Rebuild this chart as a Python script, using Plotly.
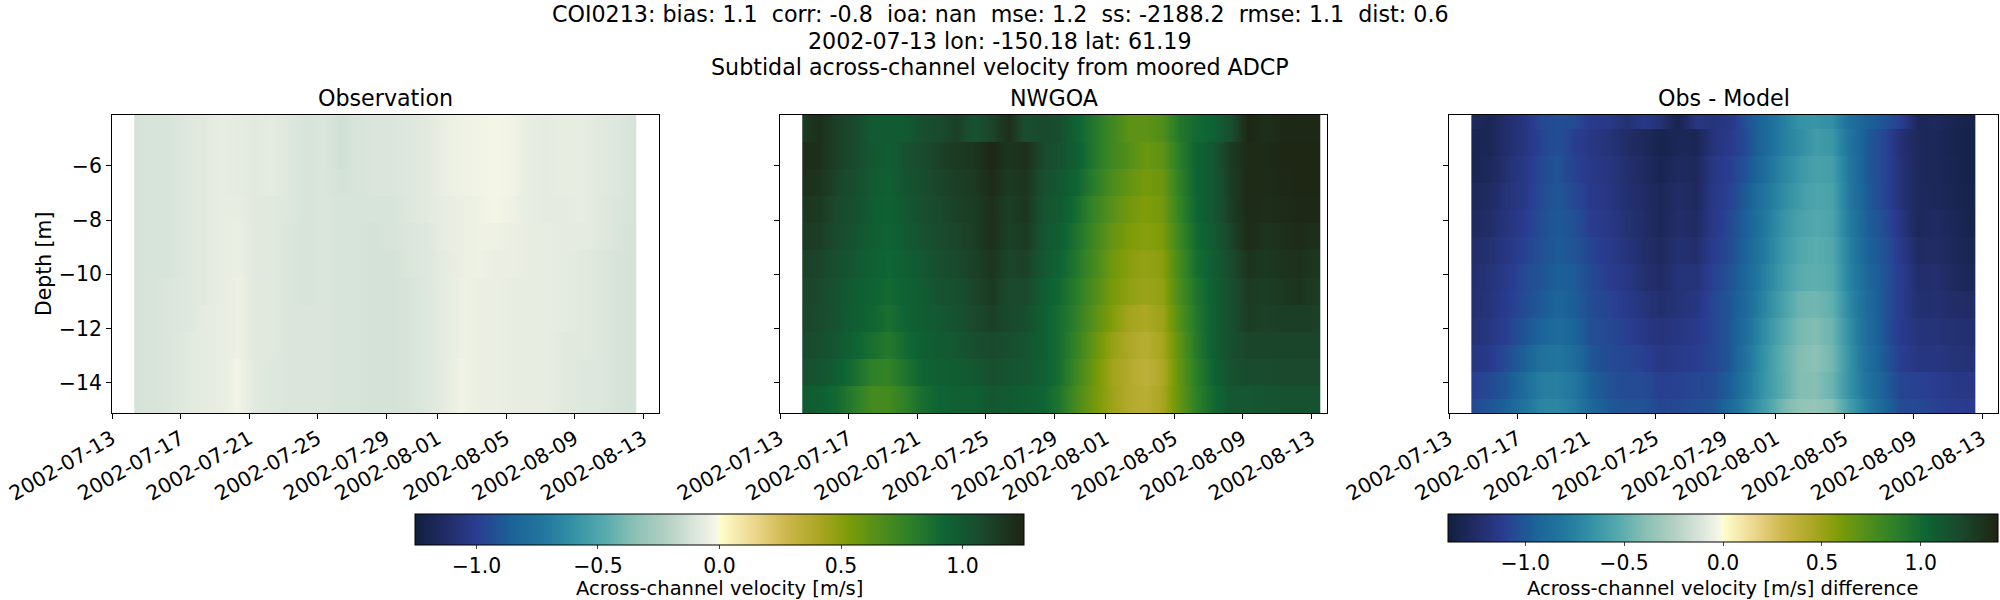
from datetime import datetime, timedelta

import numpy as np
import plotly.graph_objects as go

# days after 2002-07-13 for the start of each data column
day_obs = [1.3, 2.3, 3.3, 4.3, 5.3, 6.3, 7.3, 8.3, 9.3, 10.3, 11.3, 12.3, 13.3, 14.3, 15.3, 16.3, 17.3, 18.3,
           19.3, 20.3, 21.3, 22.3, 23.3, 24.3, 25.3, 26.3, 27.3, 28.3, 29.3, 30.3, 30.6]
day_model = day_obs + [31.5]

# top edge of every model level, last one only shows in the difference panel
depth_levels = [-4.12, -5.12, -6.12, -7.12, -8.12, -9.12, -10.12, -11.12, -12.12, -13.12, -14.12, -15.12]

obs_rows = [
    [-.12, -.11, -.11, -.09, -.08, -.06, -.07, -.08, -.07, -.09, -.11, -.10, -.13, -.11, -.10, -.10, -.09, -.08, -.05, -.04, -.03, -.02, -.03, -.06, -.07, -.06, -.06, -.08, -.09, -.11, -.12],
    [-.12, -.11, -.11, -.09, -.08, -.06, -.07, -.08, -.07, -.09, -.11, -.10, -.13, -.11, -.10, -.10, -.09, -.08, -.05, -.04, -.03, -.02, -.03, -.06, -.07, -.06, -.06, -.08, -.09, -.11, -.12],
    [-.12, -.11, -.11, -.09, -.08, -.06, -.07, -.08, -.07, -.09, -.11, -.10, -.12, -.11, -.10, -.10, -.09, -.08, -.05, -.04, -.03, -.02, -.03, -.06, -.07, -.06, -.06, -.08, -.09, -.11, -.12],
    [-.12, -.11, -.11, -.09, -.08, -.06, -.06, -.08, -.08, -.09, -.11, -.10, -.11, -.11, -.11, -.11, -.09, -.08, -.06, -.05, -.04, -.02, -.04, -.06, -.07, -.07, -.06, -.08, -.10, -.11, -.12],
    [-.12, -.11, -.11, -.09, -.08, -.06, -.05, -.08, -.08, -.10, -.11, -.10, -.11, -.11, -.12, -.11, -.10, -.09, -.06, -.05, -.04, -.04, -.05, -.06, -.06, -.07, -.07, -.08, -.10, -.12, -.12],
    [-.12, -.11, -.11, -.09, -.08, -.06, -.05, -.08, -.08, -.10, -.11, -.10, -.11, -.11, -.12, -.12, -.10, -.09, -.07, -.05, -.04, -.05, -.05, -.06, -.06, -.07, -.08, -.09, -.11, -.12, -.12],
    [-.12, -.11, -.10, -.09, -.08, -.06, -.04, -.08, -.08, -.10, -.11, -.10, -.11, -.11, -.12, -.12, -.11, -.09, -.07, -.04, -.05, -.05, -.06, -.06, -.06, -.07, -.08, -.09, -.11, -.12, -.12],
    [-.12, -.11, -.10, -.09, -.07, -.06, -.04, -.08, -.08, -.10, -.10, -.10, -.11, -.11, -.12, -.12, -.11, -.09, -.07, -.04, -.05, -.05, -.06, -.06, -.06, -.07, -.08, -.09, -.11, -.12, -.12],
    [-.12, -.11, -.10, -.08, -.07, -.06, -.04, -.08, -.08, -.10, -.10, -.10, -.11, -.11, -.12, -.12, -.11, -.09, -.07, -.04, -.05, -.05, -.06, -.06, -.06, -.08, -.08, -.09, -.11, -.12, -.12],
    [-.12, -.11, -.10, -.08, -.07, -.06, -.03, -.08, -.09, -.10, -.10, -.10, -.11, -.11, -.12, -.12, -.11, -.09, -.07, -.03, -.05, -.05, -.06, -.06, -.06, -.08, -.09, -.09, -.11, -.12, -.12],
    [-.12, -.11, -.10, -.08, -.07, -.06, -.03, -.08, -.09, -.10, -.10, -.10, -.11, -.11, -.12, -.12, -.11, -.09, -.07, -.03, -.05, -.05, -.06, -.06, -.06, -.08, -.09, -.09, -.11, -.12, -.12],
    [-.12, -.11, -.10, -.08, -.07, -.06, -.03, -.08, -.09, -.10, -.10, -.10, -.11, -.11, -.12, -.12, -.11, -.09, -.07, -.03, -.05, -.05, -.06, -.06, -.06, -.08, -.09, -.09, -.11, -.12, -.12],
]

model_rows = [
    [1.15, 1.20, 1.12, 1.08, .98, .98, .98, 1.05, 1.07, 1.12, 1.03, 1.10, 1.20, 1.05, 1.08, 1.05, .93, .83, .72, .62, .62, .66, .83, .90, .94, 1.05, 1.24, 1.20, 1.23, 1.23, 1.23, 1.23],
    [1.20, 1.20, 1.12, 1.08, 1.00, .97, 1.03, 1.07, 1.12, 1.15, 1.17, 1.24, 1.17, 1.20, 1.08, 1.03, .95, .83, .72, .65, .58, .62, .80, .93, 1.00, 1.15, 1.22, 1.22, 1.24, 1.24, 1.24, 1.24],
    [1.20, 1.18, 1.10, 1.06, .98, .95, 1.02, 1.06, 1.10, 1.13, 1.15, 1.22, 1.15, 1.18, 1.05, 1.00, .92, .80, .68, .60, .55, .58, .78, .93, 1.00, 1.14, 1.22, 1.22, 1.23, 1.24, 1.24, 1.24],
    [1.17, 1.15, 1.08, 1.05, .97, .94, 1.00, 1.05, 1.08, 1.12, 1.14, 1.20, 1.13, 1.17, 1.03, .98, .88, .75, .64, .56, .52, .56, .76, .92, 1.00, 1.13, 1.22, 1.21, 1.22, 1.23, 1.23, 1.23],
    [1.15, 1.13, 1.07, 1.03, .96, .93, .98, 1.03, 1.07, 1.10, 1.13, 1.20, 1.12, 1.15, 1.02, .95, .85, .72, .60, .53, .50, .53, .73, .90, .98, 1.10, 1.22, 1.18, 1.20, 1.22, 1.21, 1.20],
    [1.12, 1.10, 1.05, 1.00, .95, .92, .96, 1.00, 1.05, 1.08, 1.12, 1.17, 1.10, 1.12, 1.00, .93, .83, .70, .57, .50, .47, .50, .70, .88, .96, 1.07, 1.18, 1.16, 1.18, 1.20, 1.18, 1.16],
    [1.10, 1.08, 1.03, .97, .93, .90, .94, .98, 1.03, 1.05, 1.10, 1.15, 1.08, 1.08, .97, .90, .80, .67, .55, .48, .45, .48, .68, .85, .95, 1.05, 1.15, 1.13, 1.16, 1.18, 1.16, 1.14],
    [1.10, 1.07, 1.02, .96, .92, .87, .93, .97, 1.00, 1.03, 1.08, 1.12, 1.08, 1.05, .95, .88, .78, .64, .52, .43, .40, .45, .65, .83, .95, 1.05, 1.14, 1.12, 1.13, 1.13, 1.13, 1.12],
    [1.08, 1.05, 1.00, .93, .87, .82, .90, .95, .98, 1.00, 1.05, 1.08, 1.05, 1.02, .95, .88, .75, .60, .47, .40, .36, .42, .62, .82, .95, 1.05, 1.10, 1.10, 1.10, 1.10, 1.10, 1.10],
    [1.05, 1.02, .95, .88, .78, .76, .85, .93, .96, .97, 1.00, 1.05, 1.02, 1.00, .95, .88, .72, .57, .44, .38, .33, .40, .60, .80, .93, 1.03, 1.07, 1.07, 1.08, 1.08, 1.08, 1.08],
    [.98, .95, .90, .80, .70, .70, .78, .88, .93, .95, .95, 1.00, .98, .96, .93, .84, .69, .56, .45, .38, .35, .42, .60, .78, .90, 1.00, 1.00, 1.02, 1.03, 1.03, 1.03, 1.03],
    [.94, .90, .85, .75, .66, .66, .75, .84, .90, .92, .92, .97, .95, .93, .90, .78, .64, .52, .38, .33, .30, .35, .54, .72, .87, .97, .97, 1.00, 1.00, 1.00, 1.00, 1.00],
]

tick_dates = ["2002-07-13", "2002-07-17", "2002-07-21", "2002-07-25", "2002-07-29",
              "2002-08-01", "2002-08-05", "2002-08-09", "2002-08-13"]
depth_ticks = [-6, -8, -10, -12, -14]
cbar_ticks = [-1.0, -0.5, 0.0, 0.5, 1.0]
panel_titles = ["Observation", "NWGOA", "Obs - Model"]
suptitle_lines = [
    "COI0213: bias: 1.1  corr: -0.8  ioa: nan  mse: 1.2  ss: -2188.2  rmse: 1.1  dist: 0.6",
    "2002-07-13 lon: -150.18 lat: 61.19",
    "Subtidal across-channel velocity from moored ADCP",
]

# cmocean delta, picked off the colorbar
delta = [
    [0.0, "#111f3f"], [0.05, "#212c65"], [0.1, "#2a3c90"], [0.157, "#1b6298"], [0.215, "#23799f"],
    [0.258, "#3390a5"], [0.31, "#55aaad"], [0.36, "#8ac0b4"], [0.415, "#b5d1c5"], [0.47, "#e3eae0"],
    [0.497, "#f8f8e8"], [0.5, "#fffdcd"], [0.555, "#ecd88f"], [0.61, "#cdb74c"], [0.665, "#a9a622"],
    [0.71, "#7e9c08"], [0.757, "#559019"], [0.81, "#2f8128"], [0.87, "#0e6434"], [0.93, "#1a4a2e"],
    [1.0, "#1e2412"],
]

W, H = 2000, 600
FONT = "DejaVu Sans"
start = datetime(2002, 7, 13)


def fx(px):
    return px / W


def fy(py):
    return 1 - py / H


def cell_x(days):
    # heatmap edges come out half a cell past the centres, a tight pair at each end stops that
    days = [days[0]] + [days[0] + 0.001] + days[1:-1] + [days[-1] - 0.001, days[-1]]
    return [start + timedelta(days=d) for d in days]


def pad(row):
    return [row[0]] + list(row) + [row[-1]]


def heat(rows, days, edges, coloraxis):
    # rows come top down; smoothing only across time, so each level gets two close y values
    y, z = [], []
    for i in range(len(rows) - 1, -1, -1):
        y += [edges[i + 1] + 0.001, edges[i] - 0.001]
        z += [pad(rows[i]), pad(rows[i])]
    return go.Heatmap(x=cell_x(days), y=y, z=z, zsmooth="best", coloraxis=coloraxis)


obs = np.array(obs_rows)
model = np.array(model_rows)
diff = obs - model[:, :len(day_obs)]

# difference panel cells are centred on the levels, so first and last are cut in half
diff_edges = [depth_levels[0]] + [d - 0.5 for d in depth_levels[:-1]] + [depth_levels[-1]]

fig = go.Figure()
fig.add_trace(heat(obs_rows[:11], day_obs, depth_levels, "coloraxis"))
fig.add_trace(heat(model_rows[:11], day_model, depth_levels, "coloraxis").update(xaxis="x2", yaxis="y2"))
fig.add_trace(heat(diff.tolist(), day_obs, diff_edges, "coloraxis2").update(xaxis="x3", yaxis="y3"))

TICK_SIZE = 20.4
LABEL_SIZE = 19.5
axis_style = dict(
    showline=True, mirror=True, linecolor="black", linewidth=1, showgrid=False, zeroline=False,
    ticks="outside", ticklen=5, tickcolor="black", tickfont=dict(family=FONT, size=TICK_SIZE, color="black"),
)
x_range = ["2002-07-13", "2002-08-13 22:00"]
domains = [(112, 659), (780, 1327), (1449, 1998)]

layout = dict(
    width=W, height=H, margin=dict(l=0, r=0, t=0, b=0, autoexpand=False), paper_bgcolor="white",
    plot_bgcolor="white", font=dict(family=FONT, color="black"), showlegend=False,
)
for i, (a, b) in enumerate(domains):
    suffix = "" if i == 0 else str(i + 1)
    layout["xaxis" + suffix] = dict(
        axis_style, domain=[fx(a), fx(b)], range=x_range, tickvals=tick_dates, ticktext=tick_dates,
        tickangle=-30, anchor="y" + suffix,
    )
    layout["yaxis" + suffix] = dict(
        axis_style, domain=[fy(413), fy(115)], range=[-15.12, -4.12], tickvals=depth_ticks, anchor="x" + suffix,
        showticklabels=i == 0,
    )


def bar(limit, x0, x1, height):
    return dict(
        cmin=-limit, cmax=limit, colorscale=delta,
        colorbar=dict(
            orientation="h", x=fx(x0), xanchor="left", len=(x1 - x0) / W, y=fy(514), yanchor="top",
            thickness=height, outlinecolor="black", outlinewidth=1, ticks="outside", ticklen=4,
            tickvals=cbar_ticks, tickformat=".1f", tickfont=dict(family=FONT, size=TICK_SIZE), xpad=0, ypad=0,
        ),
    )


layout["coloraxis"] = bar(1.253, 415, 1024, 31)
layout["coloraxis2"] = bar(1.39, 1448, 1998, 28)

notes = []
for text, py in zip(suptitle_lines, [14, 41, 67]):
    notes.append(dict(text=text, x=fx(1000), y=fy(py), xref="paper", yref="paper", showarrow=False,
                      xanchor="center", yanchor="middle", font=dict(family=FONT, size=22.2)))
for text, (a, b) in zip(panel_titles, domains):
    notes.append(dict(text=text, x=fx((a + b) / 2), y=fy(98), xref="paper", yref="paper", showarrow=False,
                      xanchor="center", yanchor="middle", font=dict(family=FONT, size=22.2)))
notes.append(dict(text="Depth [m]", x=fx(44), y=fy(264), xref="paper", yref="paper", showarrow=False,
                  textangle=-90, xanchor="center", yanchor="middle", font=dict(family=FONT, size=TICK_SIZE)))
for text, px in [("Across-channel velocity [m/s]", 719), ("Across-channel velocity [m/s] difference", 1722)]:
    notes.append(dict(text=text, x=fx(px), y=fy(588), xref="paper", yref="paper", showarrow=False,
                      xanchor="center", yanchor="middle", font=dict(family=FONT, size=LABEL_SIZE)))
layout["annotations"] = notes

fig.update_layout(**layout)
# the page body has an 8 px margin by default, which would push the figure off the window
fig.write_html("out.html", config={"displayModeBar": False}, post_script="document.body.style.margin = '0';")
